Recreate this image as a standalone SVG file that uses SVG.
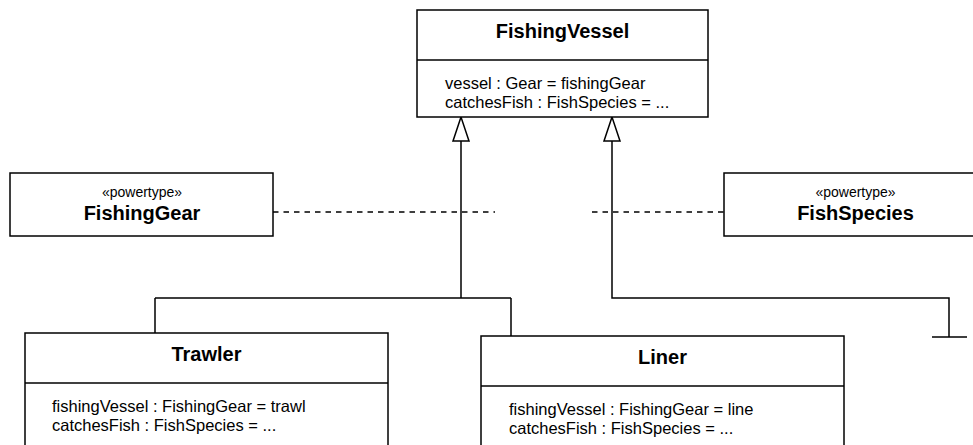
<svg xmlns="http://www.w3.org/2000/svg" width="973" height="445" viewBox="0 0 973 445">
<style>
.box{fill:#fff;stroke:#000;stroke-width:1.5}
.ln{fill:none;stroke:#000;stroke-width:1.5}
.dash{fill:none;stroke:#000;stroke-width:1.5;stroke-dasharray:5.5 5}
.title{font-family:"Liberation Sans",Arial,sans-serif;font-weight:bold;font-size:20px;fill:#000;text-anchor:middle}
.st{font-family:"Liberation Sans",Arial,sans-serif;font-size:14px;fill:#000;text-anchor:middle}
.attr{font-family:"Liberation Sans",Arial,sans-serif;font-size:16.5px;fill:#000}
.tri{fill:#fff;stroke:#000;stroke-width:1.5}
</style>
<rect width="973" height="445" fill="#fff"/>
<g id="connectors">
<path class="ln" d="M461 141 V298 M155 298 H511 M155 298 V333 M511 298 V336"/>
<path class="ln" d="M612 141 V298 H949 V337 M932 337 H967"/>
<polygon class="tri" points="461,117 453,141 469,141"/>
<polygon class="tri" points="612,117 604,141 620,141"/>
<path class="dash" d="M273 212 H495"/>
<path class="dash" d="M592 212 H724"/>
</g>
<g id="FishingVessel">
<rect class="box" x="417" y="10" width="291" height="107"/>
<line class="ln" x1="417" y1="60" x2="708" y2="60"/>
<text class="title" x="562.5" y="38">FishingVessel</text>
<text class="attr" x="445" y="89">vessel : Gear = fishingGear</text>
<text class="attr" x="445" y="108">catchesFish : FishSpecies = ...</text>
</g>
<g id="FishingGear">
<rect class="box" x="10" y="173" width="263" height="63"/>
<text class="st" x="142" y="197">«powertype»</text>
<text class="title" x="142" y="220">FishingGear</text>
</g>
<g id="FishSpecies">
<rect class="box" x="724" y="173" width="263" height="63"/>
<text class="st" x="855.5" y="197">«powertype»</text>
<text class="title" x="855.5" y="220">FishSpecies</text>
</g>
<g id="Trawler">
<rect class="box" x="25" y="333" width="363" height="130"/>
<line class="ln" x1="25" y1="383" x2="388" y2="383"/>
<text class="title" x="206.5" y="361">Trawler</text>
<text class="attr" x="52" y="412">fishingVessel : FishingGear = trawl</text>
<text class="attr" x="52" y="431">catchesFish : FishSpecies = ...</text>
</g>
<g id="Liner">
<rect class="box" x="481" y="336" width="363" height="130"/>
<line class="ln" x1="481" y1="386" x2="844" y2="386"/>
<text class="title" x="662.5" y="364">Liner</text>
<text class="attr" x="509" y="415">fishingVessel : FishingGear = line</text>
<text class="attr" x="509" y="434">catchesFish : FishSpecies = ...</text>
</g>
</svg>
